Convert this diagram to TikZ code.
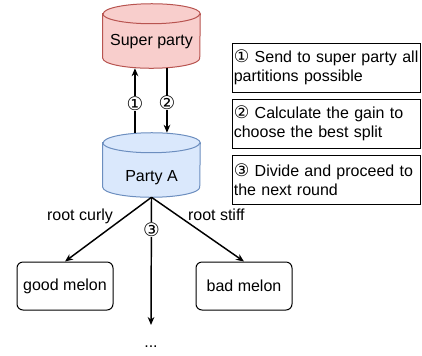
\documentclass[tikz,border=0pt]{standalone}
\usepackage{fontspec}
\setmainfont{Liberation Sans}
\newfontfamily\circfont{DejaVu Sans}
\usetikzlibrary{arrows.meta}
\definecolor{redfill}{HTML}{F8CECC}
\definecolor{redline}{HTML}{B85450}
\definecolor{bluefill}{HTML}{DAE8FC}
\definecolor{blueline}{HTML}{6C8EBF}
\tikzset{
	party/.style={minimum width=72.75pt, minimum height=48pt, inner sep=0pt},
	leaf/.style={draw, rounded corners=4.5pt, line width=0.75pt, minimum width=72pt, minimum height=36pt},
	stepbox/.style={draw, line width=0.6pt, text width=139pt, align=left, inner xsep=1pt,
		minimum height=36.75pt, font=\fontsize{12}{14}\selectfont},
	arr/.style={-{Stealth[length=6pt,width=5pt]}, line width=1.1pt},
	num/.style={fill=white, inner sep=0.3pt, font=\circfont\fontsize{14}{14}\selectfont},
	rim/.style={x radius=36.375pt, y radius=7.5pt}
}
\begin{document}
\begin{tikzpicture}[x=0.75pt,y=-0.75pt,font=\fontsize{12}{14}\selectfont]
	\useasboundingbox (0,0) rectangle (422,355);
	\node[party] (super) at (151.5,36) {};
	\node[party] (partyA) at (151.5,165) {};
	\foreach \n/\f/\d in {super/redfill/redline, partyA/bluefill/blueline}{
		\filldraw[fill=\f, draw=\d, line width=0.75pt] ([yshift=-7.5pt]\n.north west) -- ([yshift=7.5pt]\n.south west)
			arc[start angle=180, end angle=360, rim] -- ([yshift=-7.5pt]\n.north east)
			arc[start angle=0, end angle=180, rim] -- cycle;
		\draw[\d, line width=0.75pt] ([yshift=-7.5pt]\n.north west) arc[start angle=180, end angle=360, rim];
	}
	\node (superlbl) at ([yshift=-4.5pt]super.center) {Super party};
	\node (partyAlbl) at ([yshift=-9.75pt]partyA.center) {Party A};
	\draw[arr] ([xshift=-12.4pt]partyA.north) -- node[num, pos=0.45]{①} ([xshift=-12.4pt]super.south);
	\draw[arr] ([xshift=11.6pt]super.south) -- node[num, pos=0.54]{②} ([xshift=11.6pt]partyA.north);
	\node[stepbox] (s1) at (326.5,67.5) {{\circfont\fontsize{13}{14}\selectfont ①} Send to super party all partitions possible};
	\node[stepbox] (s2) at (326.5,123.5) {{\circfont\fontsize{13}{14}\selectfont ②} Calculate the gain to choose the best split};
	\node[stepbox] (s3) at (326.5,179.5) {{\circfont\fontsize{13}{14}\selectfont ③} Divide and proceed to the next round};
	\node[leaf] (good) at (65,286) {good melon};
	\node[leaf] (bad) at (244,286) {bad melon};
	\coordinate (more) at (151,325);
	\node (dots) at (151,347) {...};
	\draw[arr] (partyA.south) -- node[pos=0.43, anchor=south east, inner sep=0.5pt]{root curly} (good.north);
	\draw[arr] (partyA.south) -- node[pos=0.38, anchor=south west, inner sep=0.5pt]{root stiff} (bad.north);
	\draw[arr] (partyA.south) -- node[num, pos=0.25]{③} (more);
\end{tikzpicture}
\end{document}
